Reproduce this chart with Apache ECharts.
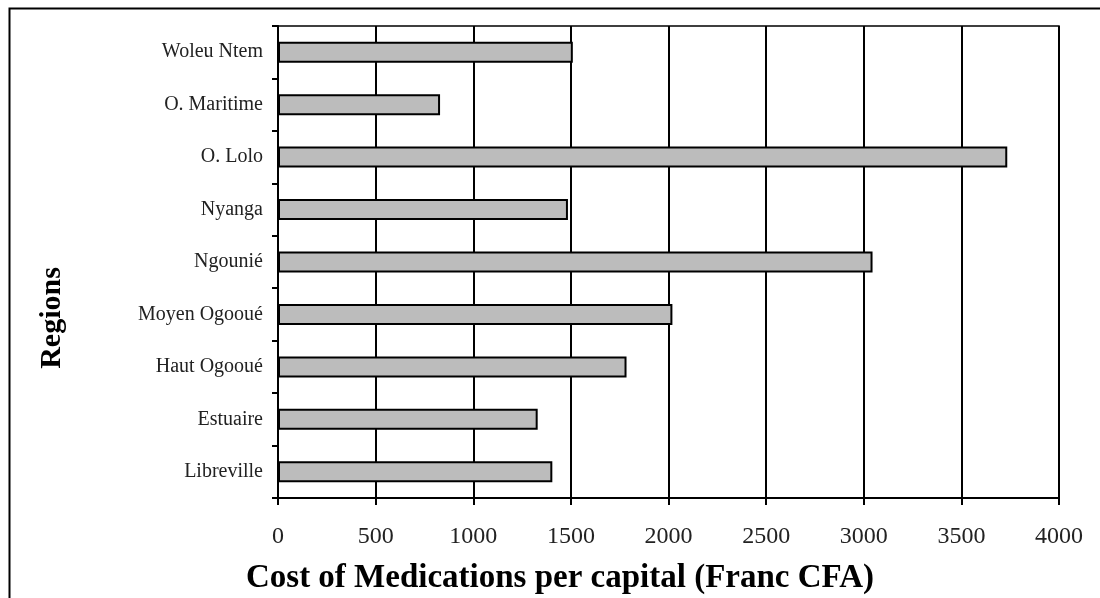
<!DOCTYPE html>
<html>
<head>
<meta charset="utf-8">
<script src="https://cdn.jsdelivr.net/npm/echarts@6/dist/echarts.min.js"></script>
<style>
  html, body { margin: 0; padding: 0; background: #fff; }
  #chart { width: 1100px; height: 598px; }
</style>
</head>
<body>
<div id="chart"></div>
<script>
// regions, listed top to bottom as in the figure
var regions = ["Woleu Ntem", "O. Maritime", "O. Lolo", "Nyanga", "Ngounié",
               "Moyen Ogooué", "Haut Ogooué", "Estuaire", "Libreville"];
// cost of medications per capita (Franc CFA)
var costs = [1510, 830, 3735, 1485, 3045, 2020, 1785, 1330, 1405];
var xTicks = [0, 500, 1000, 1500, 2000, 2500, 3000, 3500, 4000];
var xTitle = "Cost of Medications per capital (Franc CFA)";
var yTitle = "Regions";

var serif = "'Liberation Serif', 'Times New Roman', serif";

var chart = echarts.init(document.getElementById("chart"));
chart.setOption({
    animation: false,
    backgroundColor: "#fff",
    grid: {
        left: 278, right: 41, top: 26, bottom: 100,
        show: true, borderColor: "#000", borderWidth: 1.5
    },
    xAxis: {
        type: "value",
        min: xTicks[0],
        max: xTicks[xTicks.length - 1],
        interval: 500,
        axisLine: { show: true, lineStyle: { color: "#000", width: 2 } },
        axisTick: { show: true, length: 7, lineStyle: { color: "#000", width: 2 } },
        axisLabel: {
            fontFamily: serif, fontSize: 24, color: "#222", margin: 27,
            formatter: function(v) { return String(v); }
        },
        splitLine: { show: true, lineStyle: { color: "#000", width: 2 } }
    },
    yAxis: {
        type: "category",
        data: regions,
        inverse: true,
        axisLine: { show: true, lineStyle: { color: "#000", width: 2 } },
        axisTick: { show: true, length: 6, lineStyle: { color: "#000", width: 2 } },
        axisLabel: { fontFamily: serif, fontSize: 20, color: "#222", margin: 15 },
        splitLine: { show: false }
    },
    series: [{
        type: "bar",
        data: costs,
        barWidth: 21,
        itemStyle: { color: "#bcbcbc", borderColor: "#000", borderWidth: 2 }
    }],
    graphic: [{
        type: "rect",
        left: 7, top: 6,
        shape: { width: 1200, height: 700 },
        style: { fill: null, stroke: "#000", lineWidth: 2 },
        silent: true
    }, {
        type: "text",
        x: 560, y: 578,
        style: {
            text: xTitle, fontFamily: serif, fontSize: 33, fontWeight: "bold",
            fill: "#000", align: "center", verticalAlign: "middle"
        },
        silent: true
    }, {
        type: "text",
        x: 52, y: 318,
        rotation: Math.PI / 2,
        style: {
            text: yTitle, fontFamily: serif, fontSize: 30, fontWeight: "bold",
            fill: "#000", align: "center", verticalAlign: "middle"
        },
        silent: true
    }]
});
</script>
</body>
</html>
